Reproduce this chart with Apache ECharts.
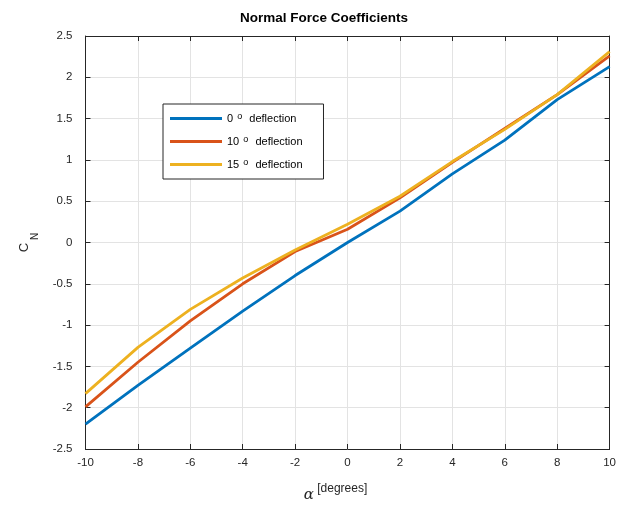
<!DOCTYPE html>
<html>
<head>
<meta charset="utf-8">
<script src="https://cdn.jsdelivr.net/npm/echarts@6/dist/echarts.min.js"></script>
<style>html,body{margin:0;padding:0;background:#fff;overflow:hidden}#c{width:619px;height:508px}</style>
</head>
<body>
<div id="c"></div>
<script>
const alpha = [-10, -8, -6, -4, -2, 0, 2, 4, 6, 8, 10];
const cn0  = [-2.20, -1.73, -1.28, -0.83, -0.40, 0.00, 0.38, 0.83, 1.24, 1.73, 2.13];
const cn10 = [-1.99, -1.45, -0.95, -0.50, -0.11, 0.16, 0.54, 0.97, 1.38, 1.79, 2.26];
const cn15 = [-1.83, -1.27, -0.81, -0.43, -0.09, 0.22, 0.56, 0.98, 1.37, 1.79, 2.31];
const seriesNames = ['0', '10', '15'];
const seriesData = [cn0, cn10, cn15];
const colors = ['#0072BD', '#D95319', '#EDB120'];

const font = 'Liberation Sans, Arial, Helvetica, sans-serif';
const axisColor = '#262626';
const chart = echarts.init(document.getElementById('c'), null, { width: 619, height: 508 });

function pairs(ys) { return alpha.map((x, i) => [x, ys[i]]); }

const common = {
  type: 'value',
  axisLine: { show: true, onZero: false, lineStyle: { color: axisColor, width: 1 } },
  axisTick: { show: true, inside: true, length: 5, lineStyle: { color: axisColor } },
  splitLine: { show: false },
};

chart.setOption({
  animation: false,
  backgroundColor: '#fff',
  title: {
    text: 'Normal Force Coefficients',
    left: 235, top: 6,
    textStyle: { fontFamily: font, fontSize: 13.5, fontWeight: 'bold', color: '#000' }
  },
  grid: { left: 80, top: 36, width: 534, height: 423, containLabel: false },
  xAxis: [
    Object.assign({}, common, {
      min: -10, max: 10, interval: 2, position: 'bottom',
      axisLabel: { color: axisColor, fontFamily: font, fontSize: 11.5, margin: 8 },
      splitLine: { show: true, lineStyle: { color: '#e3e3e3', width: 1 } },
      name: '{a|α}{b| [degrees]}', nameLocation: 'middle', nameGap: 35,
      nameTextStyle: {
        rich: {
          a: { fontFamily: 'DejaVu Serif, serif', fontStyle: 'italic', fontSize: 15, lineHeight: 15, color: axisColor, padding: [8, 0, 0, 0] },
          b: { fontFamily: font, fontSize: 12, lineHeight: 12, color: axisColor, padding: [0, 24, 6, 0] }
        }
      }
    }),
    Object.assign({}, common, {
      min: -10, max: 10, interval: 2, position: 'top',
      axisLabel: { show: false }
    })
  ],
  yAxis: [
    Object.assign({}, common, {
      min: -2.5, max: 2.5, interval: 0.5, position: 'left',
      axisLabel: { color: axisColor, fontFamily: font, fontSize: 11.5, margin: 13 },
      splitLine: { show: true, lineStyle: { color: '#e3e3e3', width: 1 } },
      name: '{c|C}{n| N}', nameLocation: 'middle', nameGap: 55, nameRotate: 90,
      nameTextStyle: {
        rich: {
          c: { fontFamily: font, fontSize: 13, lineHeight: 13, color: axisColor },
          n: { fontFamily: font, fontSize: 10, lineHeight: 10, color: axisColor, padding: [22, 0, 0, 0] }
        }
      }
    }),
    Object.assign({}, common, {
      min: -2.5, max: 2.5, interval: 0.5, position: 'right',
      axisLabel: { show: false }
    })
  ],
  legend: {
    orient: 'vertical', left: 163, top: 104,
    padding: [8, 21, 9, 7],
    itemGap: 11,
    itemWidth: 52, itemHeight: 3,
    icon: 'rect',
    backgroundColor: '#fff',
    borderColor: '#262626', borderWidth: 1,
    data: seriesNames,
    formatter: function (n) { return '{a|' + n + ' }{s|o}{a|  deflection}'; },
    textStyle: {
      rich: {
        a: { fontFamily: font, fontSize: 11, lineHeight: 13, color: '#000' },
        s: { fontFamily: font, fontSize: 9, lineHeight: 13, verticalAlign: 'top', color: '#000', padding: [0, 1, 0, 1] }
      }
    }
  },
  series: seriesNames.map((n, i) => ({
    name: n, type: 'line', data: pairs(seriesData[i]),
    xAxisIndex: 0, yAxisIndex: 0,
    showSymbol: false, symbol: 'none',
    lineStyle: { color: colors[i], width: 2.8 },
    itemStyle: { color: colors[i] },
    z: 2 + i
  }))
});
</script>
</body>
</html>
